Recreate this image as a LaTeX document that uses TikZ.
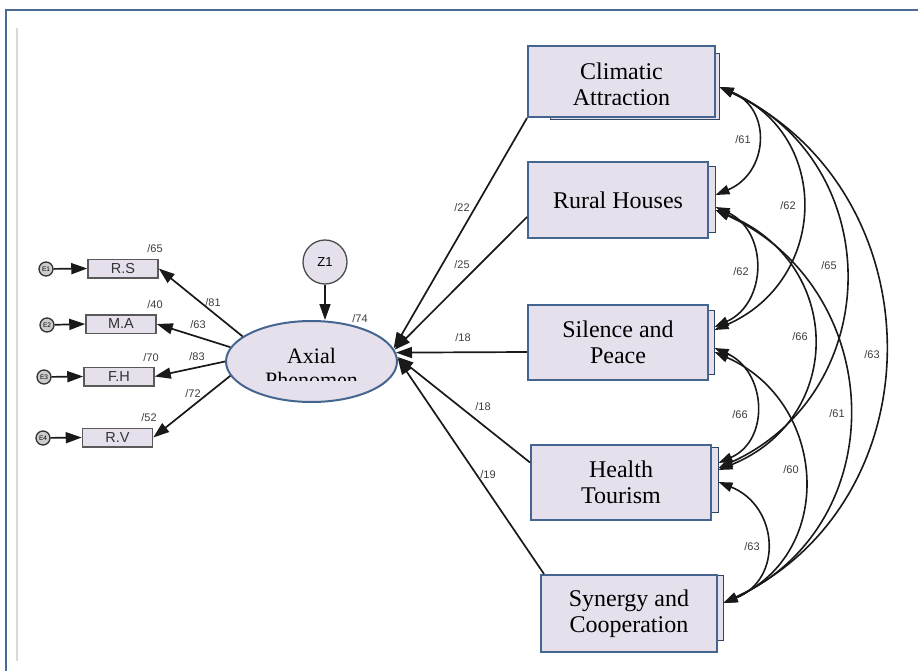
\documentclass[tikz,border=0pt]{standalone}
\usepackage{fontspec}
\setmainfont{Liberation Serif}
\setsansfont{Liberation Sans}
\usetikzlibrary{arrows.meta,shapes.geometric}
\definecolor{lav}{HTML}{E5E0EC}
\definecolor{bord}{HTML}{44658F}
\definecolor{frameblue}{HTML}{4A6A96}
\definecolor{numgray}{HTML}{3C3C3C}
\tikzset{
  mainbox/.style={draw=bord, line width=2pt, fill=lav, inner sep=0pt, align=center, font=\fontsize{24}{26}\selectfont},
  backbox/.style={draw=bord!70!black, line width=1pt, fill=lav, inner sep=0pt},
  smallbox/.style={draw=black!65, line width=1.5pt, fill=lav, inner sep=0pt, minimum width=70pt, minimum height=18.5pt, font=\sffamily\fontsize{14.5}{15}\selectfont, text=black!80},
  errc/.style={circle, draw=black!80, line width=1.3pt, fill=black!20, minimum size=14pt, inner sep=0pt, font=\sffamily\fontsize{6.5}{6.5}\selectfont},
  pth/.style={draw=black!90, line width=1.7pt, -{Triangle[length=16pt,width=11pt]}},
  cov/.style={draw=black!90, line width=1.6pt, {Triangle[length=14pt,width=9.5pt]}-{Triangle[length=14pt,width=9.5pt]}},
  numlab/.style={font=\sffamily\fontsize{11}{12}\selectfont, text=numgray, inner sep=0pt},
  ttext/.style={inner sep=0pt, anchor=base},
}
\begin{document}
\begin{tikzpicture}[x=1pt,y=-1pt]
\useasboundingbox (0,0) rectangle (918,671);
% frame
\draw[frameblue, line width=2.2pt] (6,675) -- (6,10) -- (922,10);
\draw[black!15, line width=1.2pt] (17,28) -- (17,661);

% right boxes
\node[backbox, minimum width=169pt, minimum height=66pt] (clb) at (634.5,87) {};
\node[mainbox, minimum width=187pt, minimum height=71pt] (cl) at (621.5,81.5) {};
\begin{scope}
\clip (530,48) rectangle (713,105);
\node[ttext, font=\fontsize{24}{26}\selectfont] (clt1) at (621.5,79.5) {Climatic};
\node[ttext, font=\fontsize{24}{26}\selectfont] (clt2) at (621.5,105.5) {Attraction};
\end{scope}

\node[backbox, minimum width=175pt, minimum height=65pt] (rhb) at (627.5,199.5) {};
\node[mainbox, minimum width=180pt, minimum height=76pt] (rh) at (618,200) {Rural Houses};

\node[backbox, minimum width=174pt, minimum height=64pt] (spb) at (627,342) {};
\node[mainbox, minimum width=180pt, minimum height=75pt] (sp) at (618,342.5) {Silence and\\Peace};

\node[backbox, minimum width=173pt, minimum height=65pt] (htb) at (631.5,479.5) {};
\node[mainbox, minimum width=180pt, minimum height=75pt] (ht) at (621,482.5) {Health\\Tourism};

\node[backbox, minimum width=163pt, minimum height=65pt] (scb) at (641.5,607.5) {};
\node[mainbox, minimum width=176pt, minimum height=77pt] (sc) at (629,613.5) {Synergy and\\Cooperation};

% latent
\node[ellipse, draw=bord, line width=2pt, fill=lav, minimum width=171pt, minimum height=81pt, inner sep=0pt] (axial) at (311.5,361.5) {};
\begin{scope}
\clip (240,330) rectangle (385,380);
\node[ttext, font=\fontsize{22}{26}\selectfont] (axt1) at (311.5,363) {Axial};
\node[ttext, font=\fontsize{22}{26}\selectfont] (axt2) at (311.5,387) {Phenomen};
\end{scope}

\node[circle, draw=black!70, line width=1.3pt, fill=lav, minimum size=44pt, inner sep=0pt, font=\sffamily\fontsize{13}{14}\selectfont] (z1) at (325,262) {Z1};

% left indicators
\node[smallbox] (rs) at (123,268.5) {R.S};
\node[smallbox] (ma) at (121,324) {M.A};
\node[smallbox] (fh) at (119,376.5) {F.H};
\node[smallbox] (rv) at (117.5,437.5) {R.V};
\node[errc] (e1) at (46,269) {E1};
\node[errc] (e2) at (47,325) {E2};
\node[errc] (e3) at (44,377) {E3};
\node[errc] (e4) at (43,438) {E4};

\draw[pth] (e1) -- (rs.west);
\draw[pth] (e2) -- (ma.west);
\draw[pth] (e3) -- (fh.west);
\draw[pth] (e4) -- (rv.west);
\draw[pth] (axial.160) -- (rs.east);
\draw[pth] (axial.170) -- (ma.east);
\draw[pth] (axial.180) -- (fh.east);
\draw[pth] (axial.190) -- (rv.east);
\draw[pth] (z1.south) -- (z1.south |- axial.north);

% right paths
\draw[pth] (cl.south west) -- (axial.9);
\draw[pth] ([yshift=-17pt]rh.west) -- (axial.8);
\draw[pth] ([yshift=-9.5pt]sp.west) -- (axial.6);
\draw[pth] ([yshift=20pt]ht.west) -- (axial.3);
\draw[pth] ([xshift=4pt]sc.north west) -- (axial.2);

% covariances
\draw[cov] (clb.east) .. controls +(53,22) and +(53,-22) .. ([yshift=4.5pt]rhb.east);
\draw[cov] (clb.east) .. controls +(113,49) and +(113,-49) .. ([yshift=12pt]spb.east);
\draw[cov] (clb.east) .. controls +(168,76) and +(168,-76) .. ([yshift=11.5pt]htb.east);
\draw[cov] (clb.east) .. controls +(217,103) and +(217,-103) .. ([yshift=4.5pt]scb.east);
\draw[cov] ([yshift=-7.5pt]rhb.east) .. controls +(53,24) and +(53,-24) .. ([yshift=15pt]spb.east);
\draw[cov] ([yshift=-10.5pt]rhb.east) .. controls +(128,52) and +(128,-52) .. ([yshift=9.5pt]htb.east);
\draw[cov] ([yshift=-10.5pt]rhb.east) .. controls +(172,79) and +(172,-79) .. ([yshift=4.5pt]scb.east);
\draw[cov] ([yshift=-6pt]spb.east) .. controls +(52,23) and +(52,-23) .. ([yshift=16.5pt]htb.east);
\draw[cov] ([yshift=-10pt]spb.east) .. controls +(113,50) and +(113,-50) .. ([yshift=4.5pt]scb.east);
\draw[cov] ([yshift=-2.5pt]htb.east) .. controls +(60,24) and +(60,-24) .. ([yshift=4.5pt]scb.east);

% labels left
\node[numlab] (n65) at (155,249) {/65};
\node[numlab] (n40) at (155,305) {/40};
\node[numlab] (n70) at (151,358) {/70};
\node[numlab] (n52) at (149,418) {/52};
\node[numlab] (n81) at (213,303) {/81};
\node[numlab] (n63a) at (198,325) {/63};
\node[numlab] (n83) at (197,357) {/83};
\node[numlab] (n72) at (193,394) {/72};
\node[numlab] (n74) at (360,319) {/74};
% labels right paths
\node[numlab] (n22) at (462,208) {/22};
\node[numlab] (n25) at (462,265) {/25};
\node[numlab] (n18a) at (463,338) {/18};
\node[numlab] (n18b) at (483,407) {/18};
\node[numlab] (n19) at (488,475) {/19};
% covariance labels
\node[numlab] (c1) at (743,140) {/61};
\node[numlab] (c2) at (788,206) {/62};
\node[numlab] (c3) at (829,266) {/65};
\node[numlab] (c4) at (872,355) {/63};
\node[numlab] (c5) at (741,272) {/62};
\node[numlab] (c6) at (800,337) {/66};
\node[numlab] (c7) at (837,414) {/61};
\node[numlab] (c8) at (740,415) {/66};
\node[numlab] (c9) at (791,470) {/60};
\node[numlab] (c10) at (752,547) {/63};
\end{tikzpicture}
\end{document}
